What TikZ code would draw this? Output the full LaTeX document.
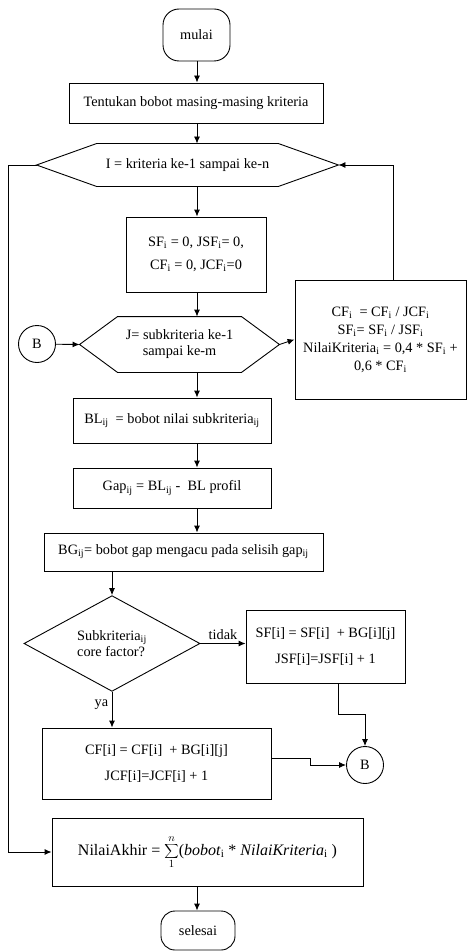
\documentclass[tikz,border=0pt]{standalone}
\usepackage{fontspec}
\setmainfont{Liberation Serif}
\usetikzlibrary{shapes.geometric,arrows.meta,positioning}

\begin{document}
\begin{tikzpicture}[x=1pt,y=-1pt,line width=0.9pt,
  font=\fontsize{14.3}{16}\selectfont,
  box/.style={draw,rectangle,inner sep=0pt,align=center},
  terminal/.style={draw,rectangle,rounded corners=16pt,inner sep=0pt},
  hexbox/.style={inner sep=0pt,align=center},
  decision/.style={draw,diamond,inner sep=0pt,align=left},
  connector/.style={draw,circle,inner sep=0pt,minimum size=37pt},
  arr/.style={-{Latex[length=7pt,width=6pt]}}]

  \useasboundingbox (0,0) rectangle (468,952);

  % Columns used by the connectors
  \coordinate (col) at (197,0);
  \coordinate (kiri) at (8,0);

  % Start and initial weights
  \node[terminal, minimum width=67pt, minimum height=52pt] (mulai) at (196.5,35) {mulai};
  \node[box, minimum width=254pt, minimum height=40pt] (tentukan) at (196,103) {Tentukan bobot masing-masing kriteria};

  % Outer loop over criteria
  \node[hexbox, minimum width=301pt, minimum height=42pt] (loopI) at (187.5,165) {I = kriteria ke-1 sampai ke-n};
  \draw (loopI.west) -- ([xshift=60pt]loopI.north west) -- ([xshift=-60pt]loopI.north east)
    -- (loopI.east) -- ([xshift=-60pt]loopI.south east) -- ([xshift=60pt]loopI.south west) -- cycle;

  \node[box, minimum width=140pt, minimum height=75pt] (init) at (196,254.5)
    {SF\textsubscript{i} = 0, JSF\textsubscript{i}= 0,\\[7pt] CF\textsubscript{i} = 0, JCF\textsubscript{i}=0};

  % Inner loop over subcriteria
  \node[hexbox, minimum width=199pt, minimum height=55pt] (loopJ) at (179.5,344.5) {J= subkriteria ke-1\\ sampai ke-m};
  \draw (loopJ.west) -- ([xshift=38pt]loopJ.north west) -- ([xshift=-38pt]loopJ.north east)
    -- (loopJ.east) -- ([xshift=-38pt]loopJ.south east) -- ([xshift=38pt]loopJ.south west) -- cycle;

  \node[connector] (B1) at (37,344) {B};

  % Result per criterion
  \node[box, minimum width=171pt, minimum height=119pt] (hasil) at (380.5,339.5)
    {CF\textsubscript{i} \ = CF\textsubscript{i} / JCF\textsubscript{i}\\[2pt]
     SF\textsubscript{i}= SF\textsubscript{i} / JSF\textsubscript{i}\\[2pt]
     NilaiKriteria\textsubscript{i} = 0,4 * SF\textsubscript{i} +\\[2pt]
     0,6 * CF\textsubscript{i}};

  % Gap calculation
  \node[box, minimum width=198pt, minimum height=45pt] (bl) at (172,420.5)
    {BL\textsubscript{ij} \ = bobot nilai subkriteria\textsubscript{ij}};
  \node[box, minimum width=198pt, minimum height=40pt] (gap) at (172,488)
    {Gap\textsubscript{ij} = BL\textsubscript{ij} - \ BL profil};
  \node[box, minimum width=279pt, minimum height=38pt] (bg) at (183.5,552)
    {BG\textsubscript{ij}= bobot gap mengacu pada selisih gap\textsubscript{ij}};

  % Core or secondary factor
  \node[decision, minimum width=176pt, minimum height=95pt] (cek) at (112,643.5)
    {Subkriteria\textsubscript{ij}\\ core factor?};
  \node[box, minimum width=159pt, minimum height=73pt] (sfi) at (325.5,646.5)
    {SF[i] = SF[i] \ + BG[i][j]\\[10pt] JSF[i]=JSF[i] + 1};
  \node[box, minimum width=229pt, minimum height=71pt] (cfi) at (156.5,763.5)
    {CF[i] = CF[i] \ + BG[i][j]\\[10pt] JCF[i]=JCF[i] + 1};
  \node[connector] (B2) at (365,765) {B};

  % Final value and end
  \node[box, minimum width=311pt, minimum height=68pt, font=\fontsize{16}{18}\selectfont] (akhir) at (207.5,852)
    {NilaiAkhir = $\displaystyle\sum_{1}^{n}$(\textit{bobot}\textsubscript{i} * \textit{NilaiKriteria}\textsubscript{i} )};
  \node[terminal, minimum width=74pt, minimum height=39pt, rounded corners=14pt] (selesai) at (198,930.5) {selesai};

  % Connectors
  \draw[arr] (mulai.south -| col) -- (tentukan.north -| col);
  \draw[arr] (tentukan.south -| col) -- (loopI.north -| col);
  \draw[arr] (loopI.south -| col) -- (init.north -| col);
  \draw[arr] (init.south -| col) -- (loopJ.north -| col);
  \draw[arr] (B1) -- (loopJ.west);
  \draw[arr] (loopJ.east) -- (hasil.west);
  \draw[arr] ([xshift=12.5pt]hasil.north) |- (loopI.east);
  \draw[arr] (loopJ.south -| col) -- (bl.north -| col);
  \draw[arr] (bl.south -| col) -- (gap.north -| col);
  \draw[arr] (gap.south -| col) -- (bg.north -| col);
  \draw[arr] (bg.south -| cek.north) -- (cek.north);
  \draw[arr] (cek.east) -- node[above] {tidak} (cek.east -| sfi.west);
  \draw[arr] (cek.south) -- node[left, pos=0.35] {ya} (cek.south |- cfi.north);
  \draw[arr] ([xshift=12.5pt]sfi.south) -- ++(0,31) -| (B2.north);
  \draw[arr] ([yshift=5pt]cfi.east) -- ++(39,0) |- (B2.west);
  \draw[arr] (loopI.west) -- (loopI.west -| kiri) |- (akhir.west);
  \draw[arr] (akhir.south -| col) -- (selesai.north -| col);

\end{tikzpicture}
\end{document}
